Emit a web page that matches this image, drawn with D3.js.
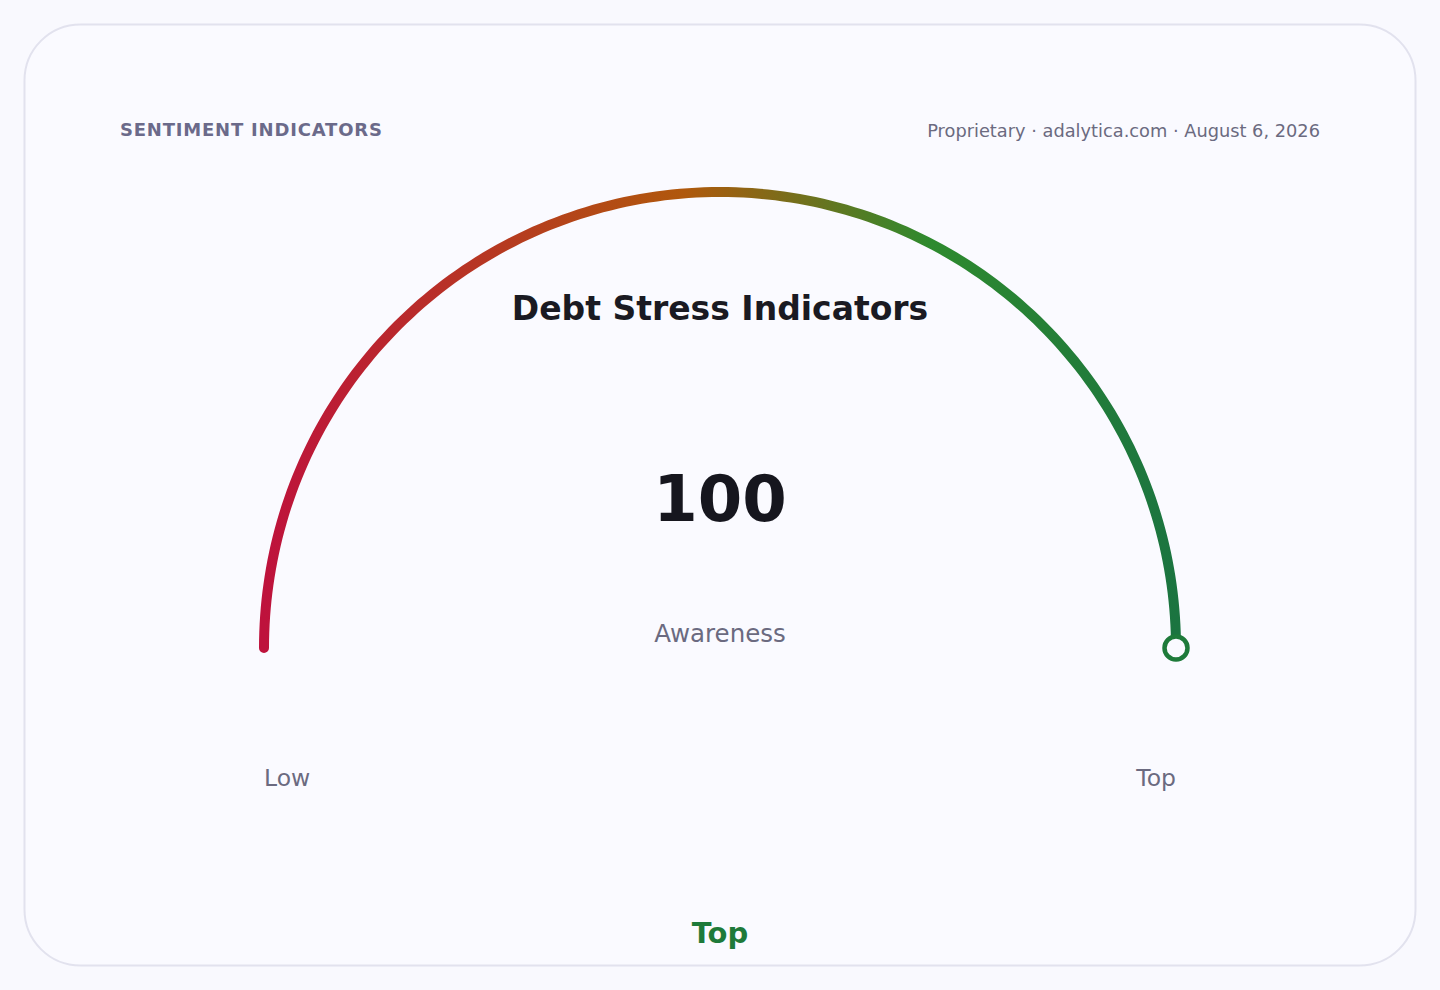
<!DOCTYPE html>
<html>
<head>
<meta charset="utf-8">
<script src="https://cdn.jsdelivr.net/npm/d3@7"></script>
<style>
  html, body { margin: 0; padding: 0; background: #f9f9fe; }
  svg { display: block; font-family: "DejaVu Sans", sans-serif; }
</style>
</head>
<body>
<div id="chart"></div>
<script>
const header = "SENTIMENT INDICATORS";
const source = "Proprietary · adalytica.com · August 6, 2026";
const title = "Debt Stress Indicators";
const metric = "Awareness";
const value = 100;
const domain = [0, 100];
const endLabels = ["Low", "Top"];
const bandLabel = "Top";
const gradientStops = [
  { offset: 0, color: "#be123c" },
  { offset: 0.46, color: "#b0580c" },
  { offset: 0.73, color: "#2e8a2e" },
  { offset: 1, color: "#1b7440" }
];

const W = 1440, H = 990;
const cx = 720, cy = 648, R = 456;

const svg = d3.select("#chart").append("svg")
  .attr("width", W).attr("height", H);

// card
svg.append("rect")
  .attr("x", 24.5).attr("y", 24.5)
  .attr("width", 1391).attr("height", 941)
  .attr("rx", 56)
  .attr("fill", "#fafaff")
  .attr("stroke", "#e2e2ee")
  .attr("stroke-width", 2);

svg.append("text")
  .attr("x", 120).attr("y", 136)
  .attr("font-size", 18).attr("font-weight", "bold")
  .attr("letter-spacing", 0.8)
  .attr("fill", "#6b6a8a")
  .text(header);

svg.append("text")
  .attr("x", 1320).attr("y", 137)
  .attr("text-anchor", "end")
  .attr("font-size", 17.8)
  .attr("fill", "#6b6a80")
  .text(source);

const angle = d3.scaleLinear().domain(domain).range([-Math.PI / 2, Math.PI / 2]);

const grad = svg.append("defs").append("linearGradient")
  .attr("id", "g")
  .attr("gradientUnits", "userSpaceOnUse")
  .attr("x1", cx - R).attr("x2", cx + R)
  .attr("y1", 0).attr("y2", 0);
grad.selectAll("stop").data(gradientStops).enter().append("stop")
  .attr("offset", d => d.offset)
  .attr("stop-color", d => d.color);

// gauge as a stroked path along the arc
const pts = d3.range(0, 181).map(i => {
  const a = angle(domain[0] + (value - domain[0]) * i / 180);
  return [cx + R * Math.sin(a), cy - R * Math.cos(a)];
});
svg.append("path")
  .attr("d", d3.line()(pts))
  .attr("fill", "none")
  .attr("stroke", "url(#g)")
  .attr("stroke-width", 10)
  .attr("stroke-linecap", "round");

const aEnd = angle(value);
svg.append("circle")
  .attr("cx", cx + R * Math.sin(aEnd))
  .attr("cy", cy - R * Math.cos(aEnd))
  .attr("r", 11.5)
  .attr("fill", "#fafaff")
  .attr("stroke", "#1e7a3a")
  .attr("stroke-width", 4.5);

svg.append("text")
  .attr("x", cx).attr("y", 320)
  .attr("text-anchor", "middle")
  .attr("font-size", 33).attr("font-weight", "bold")
  .attr("fill", "#1a1a22")
  .text(title);

svg.append("text")
  .attr("x", cx).attr("y", 521)
  .attr("text-anchor", "middle")
  .attr("font-size", 64).attr("font-weight", "bold")
  .attr("fill", "#16161e")
  .text(value);

svg.append("text")
  .attr("x", cx).attr("y", 642)
  .attr("text-anchor", "middle")
  .attr("font-size", 24.5)
  .attr("fill", "#6b6a80")
  .text(metric);

svg.append("text")
  .attr("x", cx - R).attr("y", 786)
  .attr("font-size", 23.5)
  .attr("fill", "#6b6a80")
  .text(endLabels[0]);

svg.append("text")
  .attr("x", cx + R).attr("y", 786)
  .attr("text-anchor", "end")
  .attr("font-size", 23.5)
  .attr("fill", "#6b6a80")
  .text(endLabels[1]);

svg.append("text")
  .attr("x", cx).attr("y", 943)
  .attr("text-anchor", "middle")
  .attr("font-size", 29).attr("font-weight", "bold")
  .attr("fill", "#1e7a3a")
  .text(bandLabel);
</script>
</body>
</html>
